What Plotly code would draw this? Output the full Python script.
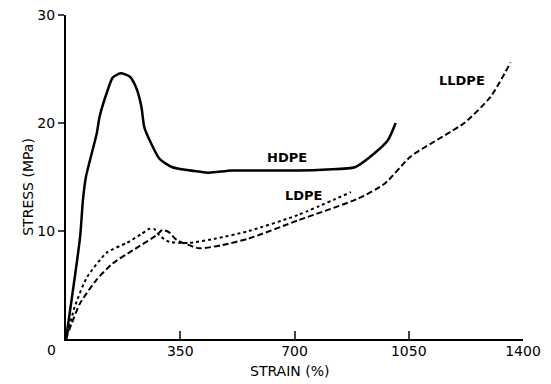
import plotly.graph_objects as go

hdpe_x = [0, 43, 52, 61, 94, 103, 125, 143, 167, 195, 216, 231, 240, 261, 286, 326, 408, 438, 508, 600, 712, 800, 885, 945, 986, 1010]
hdpe_y = [0, 9.4, 12.9, 15.0, 19.0, 20.6, 22.8, 24.2, 24.6, 24.3, 23.2, 21.5, 19.6, 18.1, 16.7, 15.9, 15.5, 15.4, 15.6, 15.6, 15.6, 15.7, 15.9, 17.2, 18.4, 20.0]

ldpe_x = [0, 27, 64, 125, 186, 230, 255, 270, 286, 316, 377, 459, 560, 712, 873]
ldpe_y = [0, 3.0, 5.7, 8.0, 8.9, 9.7, 10.2, 10.2, 9.6, 9.0, 8.9, 9.3, 10.0, 11.5, 13.6]

lldpe_x = [0, 18, 43, 94, 143, 204, 277, 295, 315, 338, 408, 478, 560, 712, 895, 977, 1056, 1220, 1300, 1362]
lldpe_y = [0, 1.5, 3.3, 5.5, 7.0, 8.2, 9.6, 10.1, 9.9, 9.2, 8.4, 8.7, 9.3, 11.0, 13.0, 14.4, 16.9, 20.0, 22.4, 25.6]

x_ticks = [350, 700, 1050, 1400]
y_ticks = [10, 20, 30]

labels = ["HDPE", "LDPE", "LLDPE"]
label_x = [676, 727, 1214]
label_y = [16.85, 13.3, 23.9]

FONT = "DejaVu Sans"

fig = go.Figure()
fig.add_trace(go.Scatter(x=hdpe_x, y=hdpe_y, mode="lines", line=dict(color="black", width=2.5, shape="spline", smoothing=0.6), showlegend=False))
fig.add_trace(go.Scatter(x=ldpe_x, y=ldpe_y, mode="lines", line=dict(color="black", width=2, dash="dot", shape="spline", smoothing=0.6), showlegend=False))
fig.add_trace(go.Scatter(x=lldpe_x, y=lldpe_y, mode="lines", line=dict(color="black", width=2, dash="6px,3px", shape="spline", smoothing=0.6), showlegend=False))

for t, lx, ly in zip(labels, label_x, label_y):
    fig.add_annotation(x=lx, y=ly, text="<b>" + t + "</b>", showarrow=False,
                       font=dict(family=FONT, size=13, color="black"))

fig.add_annotation(x=0, y=0, xref="x", yref="y", text="0", showarrow=False, xshift=-15, yshift=-11,
                   font=dict(family=FONT, size=14, color="black"))
fig.add_annotation(x=0.49, y=-0.1, xref="paper", yref="paper", text="STRAIN (%)", showarrow=False,
                   yanchor="middle", font=dict(family=FONT, size=14, color="black"))
fig.add_annotation(x=-0.083, y=0.47, xref="paper", yref="paper", text="STRESS (MPa)", showarrow=False,
                   textangle=-90, xanchor="center", yanchor="middle", font=dict(family=FONT, size=14, color="black"))

fig.update_layout(
    width=543, height=376,
    margin=dict(l=58, r=28, t=7, b=45, autoexpand=False),
    paper_bgcolor="white", plot_bgcolor="white",
    font=dict(family=FONT, size=14, color="black"),
    xaxis=dict(range=[0, 1400], tickvals=x_ticks, ticks="inside", ticklen=8, tickwidth=1.5,
               showline=True, linecolor="black", linewidth=2, showgrid=False, zeroline=False,
               automargin=False, ticklabelstandoff=-2, ticklabeloverflow="allow",
               tickfont=dict(family=FONT, size=14)),
    yaxis=dict(range=[0, 30], tickvals=y_ticks, ticks="outside", ticklen=6, tickwidth=1.5,
               showline=True, linecolor="black", linewidth=2, showgrid=False, zeroline=False,
               automargin=False, ticklabeloverflow="allow", tickfont=dict(family=FONT, size=14)),
)

fig.write_html("out.html")
